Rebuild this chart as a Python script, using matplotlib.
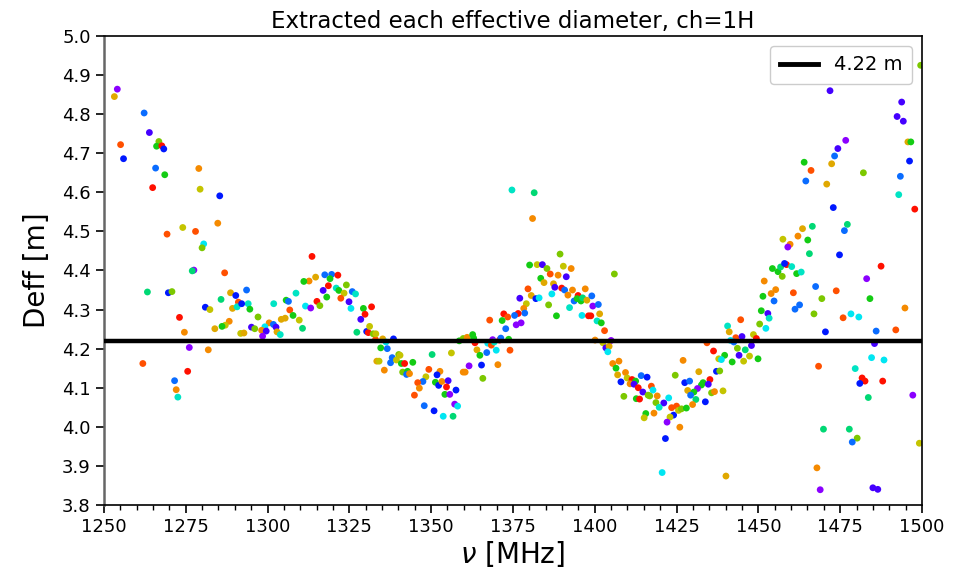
import matplotlib
matplotlib.use("Agg")
import matplotlib.pyplot as plt
from matplotlib.ticker import MultipleLocator

palette = {
    'r': '#ff1000', 'or': '#ff5000', 'o': '#f58a00', 'go': '#e0a800',
    'ol': '#c4c400', 'yg': '#7cc800', 'g': '#14cc14', 'sg': '#00d874',
    'tq': '#00e4c4', 'c': '#00e6f2', 'az': '#0a6cff', 'b': '#0018ff',
    'in': '#4400ff', 'pu': '#8a00ff',
}

freq = [
    1254.1, 1253.2, 1262.3, 1263.9, 1255.1, 1256.0, 1266.8, 1266.1, 1267.7, 1268.3,
    1265.8, 1268.6, 1279.0, 1264.9, 1279.4, 1285.4, 1274.1, 1278.0, 1284.8, 1269.3,
    1280.5, 1280.0, 1277.5, 1277.0, 1286.9, 1263.3, 1269.7, 1270.8, 1281.0, 1282.4,
    1285.8, 1288.7, 1290.3, 1291.1, 1289.3, 1290.7, 1273.1, 1288.3, 1287.1, 1286.1,
    1283.9, 1274.6, 1291.8, 1276.1, 1281.9, 1261.9, 1275.6, 1271.6, 1272.1, 1272.6,
    1313.6, 1317.5, 1319.6, 1321.5, 1319.1, 1314.7, 1312.7, 1311.1, 1324.1, 1318.6,
    1317.0, 1321.0, 1321.8, 1323.4, 1325.9, 1326.9, 1308.7, 1305.7, 1306.4, 1318.1,
    1315.1, 1322.4, 1324.9, 1311.6, 1313.2, 1316.0, 1301.9, 1293.6, 1294.1, 1292.1,
    1294.6, 1306.8, 1325.5, 1331.8, 1329.3, 1329.8, 1307.8, 1305.4, 1304.2, 1309.7,
    1328.5, 1297.1, 1310.7, 1295.1, 1296.1, 1300.5, 1299.2, 1301.8, 1302.6, 1298.2,
    1299.6, 1298.5, 1302.9, 1303.9, 1292.8, 1327.3, 1330.3, 1330.8, 1331.2, 1332.3,
    1333.0, 1333.4,
    1374.7, 1372.2, 1373.4, 1371.7, 1367.9, 1372.8, 1333.1, 1335.2, 1336.2, 1338.5,
    1334.6, 1336.6, 1334.1, 1335.7, 1338.1, 1337.6, 1340.1, 1340.5, 1339.4, 1340.9,
    1341.9, 1344.4, 1341.3, 1342.8, 1342.5, 1343.4, 1350.3, 1356.2, 1349.3, 1352.7,
    1348.4, 1347.5, 1351.8, 1351.3, 1352.3, 1353.3, 1355.2, 1345.9, 1346.4, 1354.7,
    1357.6, 1344.9, 1354.2, 1355.7, 1357.2, 1358.1, 1347.9, 1350.9, 1353.7, 1356.7,
    1358.6, 1359.8, 1361.0, 1362.7, 1363.0, 1363.4, 1364.0, 1364.9, 1367.0, 1367.3,
    1368.4, 1368.8, 1369.3, 1369.9, 1370.9, 1371.3, 1373.7, 1374.1, 1370.4, 1361.6,
    1365.4, 1359.8, 1360.4, 1365.8,
    1381.5, 1381.0, 1389.4, 1380.1, 1382.4, 1384.0, 1385.4, 1390.4, 1392.8, 1386.4,
    1388.8, 1391.3, 1383.5, 1384.5, 1387.4, 1387.8, 1389.9, 1390.8, 1393.2, 1397.1,
    1377.1, 1379.6, 1380.6, 1379.1, 1382.0, 1383.0, 1386.9, 1391.8, 1393.7, 1394.9,
    1394.6, 1395.8, 1396.3, 1397.6, 1399.1, 1399.4, 1401.1, 1385.9, 1392.3, 1388.3,
    1396.1, 1398.1, 1398.8, 1401.5, 1400.7, 1402.0, 1403.0, 1378.3, 1378.6, 1376.6,
    1375.5, 1376.0, 1377.5, 1406.0, 1400.1, 1402.5, 1405.0, 1403.4, 1404.4, 1404.0,
    1405.5, 1407.4, 1406.5, 1407.0, 1409.4, 1408.0, 1409.9, 1411.4, 1410.8, 1412.5,
    1412.0, 1413.3, 1414.2, 1416.0, 1414.7, 1416.3, 1408.9, 1412.7, 1413.7, 1415.6,
    1415.1,
    1457.5, 1454.3, 1456.0, 1456.8, 1457.3, 1451.8, 1455.3, 1453.9, 1454.8, 1451.4,
    1450.9, 1452.9, 1453.3, 1450.4, 1452.3, 1444.6, 1440.6, 1441.1, 1443.1, 1445.0,
    1441.5, 1442.5, 1448.5, 1449.4, 1447.9, 1443.6, 1446.0, 1439.7, 1437.9, 1438.7,
    1444.1, 1447.3, 1445.5, 1442.0, 1449.9, 1434.3, 1436.3, 1427.0, 1431.8, 1437.2,
    1438.2, 1424.6, 1427.5, 1429.0, 1433.1, 1432.6, 1435.2, 1434.7, 1431.4, 1435.7,
    1436.6, 1439.2, 1428.4, 1430.3, 1429.3, 1430.9, 1433.8, 1429.9, 1417.3, 1417.8,
    1416.8, 1419.1, 1421.1, 1422.6, 1418.7, 1419.7, 1418.1, 1423.5, 1425.0, 1424.1,
    1425.6, 1426.5, 1428.0, 1423.0, 1422.1, 1426.0, 1421.6, 1420.6, 1440.1,
    1499.6, 1495.3, 1471.9, 1493.8, 1492.4, 1494.3, 1476.7, 1474.3, 1473.3, 1472.4,
    1495.7, 1496.6, 1496.2, 1464.0, 1466.1, 1464.5, 1470.9, 1482.1, 1493.4, 1492.9,
    1497.8, 1472.9, 1477.2, 1476.3, 1466.5, 1463.5, 1462.1, 1465.1, 1459.7, 1459.0,
    1465.6, 1474.8, 1458.6, 1460.2, 1461.7, 1463.1, 1487.5, 1483.1, 1467.5, 1473.8,
    1460.7, 1469.4, 1484.1, 1462.6, 1461.2, 1467.0, 1475.9, 1478.3, 1480.7, 1494.8,
    1470.5, 1486.0, 1492.0, 1485.5, 1468.4, 1484.6, 1488.4, 1479.6, 1481.7, 1482.6,
    1481.0, 1488.0, 1483.6, 1497.2, 1469.9, 1477.8, 1480.2, 1478.7, 1499.2, 1467.9,
    1468.9, 1485.0, 1486.5, 1458.0,
]

deff = [
    4.864, 4.845, 4.803, 4.753, 4.722, 4.686, 4.730, 4.718, 4.719, 4.711,
    4.662, 4.645, 4.661, 4.612, 4.608, 4.591, 4.510, 4.500, 4.521, 4.493,
    4.468, 4.458, 4.401, 4.399, 4.394, 4.345, 4.343, 4.346, 4.306, 4.300,
    4.326, 4.343, 4.336, 4.319, 4.303, 4.307, 4.280, 4.270, 4.260, 4.257,
    4.251, 4.242, 4.239, 4.203, 4.197, 4.162, 4.142, 4.118, 4.095, 4.076,
    4.436, 4.389, 4.390, 4.388, 4.379, 4.383, 4.373, 4.372, 4.363, 4.361,
    4.349, 4.355, 4.349, 4.342, 4.346, 4.340, 4.342, 4.324, 4.321, 4.332,
    4.321, 4.329, 4.320, 4.309, 4.304, 4.310, 4.315, 4.350, 4.315, 4.315,
    4.301, 4.299, 4.303, 4.307, 4.303, 4.288, 4.285, 4.278, 4.275, 4.273,
    4.275, 4.281, 4.252, 4.255, 4.251, 4.266, 4.256, 4.262, 4.255, 4.247,
    4.245, 4.232, 4.243, 4.236, 4.240, 4.242, 4.244, 4.241, 4.257, 4.238,
    4.223, 4.168,
    4.606, 4.289, 4.281, 4.272, 4.273, 4.251, 4.238, 4.225, 4.217, 4.225,
    4.202, 4.200, 4.168, 4.145, 4.177, 4.164, 4.185, 4.183, 4.171, 4.162,
    4.162, 4.165, 4.140, 4.142, 4.134, 4.136, 4.185, 4.189, 4.147, 4.142,
    4.128, 4.116, 4.133, 4.114, 4.106, 4.116, 4.118, 4.113, 4.099, 4.102,
    4.094, 4.081, 4.083, 4.083, 4.058, 4.053, 4.054, 4.041, 4.027, 4.027,
    4.220, 4.226, 4.229, 4.236, 4.227, 4.215, 4.197, 4.183, 4.190, 4.214,
    4.209, 4.223, 4.217, 4.196, 4.222, 4.227, 4.224, 4.196, 4.159, 4.156,
    4.158, 4.140, 4.140, 4.124,
    4.599, 4.533, 4.442, 4.414, 4.415, 4.415, 4.405, 4.411, 4.405, 4.391,
    4.388, 4.384, 4.380, 4.369, 4.366, 4.357, 4.355, 4.350, 4.350, 4.353,
    4.329, 4.353, 4.336, 4.315, 4.328, 4.330, 4.340, 4.337, 4.322, 4.336,
    4.328, 4.322, 4.330, 4.324, 4.335, 4.309, 4.313, 4.312, 4.305, 4.284,
    4.285, 4.284, 4.284, 4.289, 4.271, 4.266, 4.246, 4.303, 4.291, 4.290,
    4.285, 4.261, 4.266, 4.391, 4.222, 4.215, 4.221, 4.202, 4.206, 4.192,
    4.162, 4.168, 4.150, 4.133, 4.139, 4.115, 4.125, 4.121, 4.110, 4.117,
    4.109, 4.100, 4.131, 4.127, 4.089, 4.081, 4.078, 4.072, 4.071, 4.034,
    4.023,
    4.480, 4.405, 4.397, 4.409, 4.385, 4.373, 4.351, 4.341, 4.322, 4.334,
    4.297, 4.290, 4.278, 4.263, 4.252, 4.274, 4.258, 4.243, 4.228, 4.231,
    4.221, 4.217, 4.236, 4.226, 4.208, 4.201, 4.197, 4.183, 4.174, 4.172,
    4.183, 4.181, 4.168, 4.166, 4.174, 4.215, 4.194, 4.170, 4.141, 4.142,
    4.143, 4.132, 4.113, 4.117, 4.113, 4.107, 4.121, 4.109, 4.098, 4.087,
    4.090, 4.092, 4.093, 4.089, 4.081, 4.070, 4.064, 4.057, 4.104, 4.094,
    4.079, 4.079, 4.061, 4.074, 4.062, 4.050, 4.035, 4.049, 4.053, 4.030,
    4.042, 4.046, 4.048, 4.025, 4.012, 3.999, 3.970, 3.883, 3.874,
    4.925, 4.885, 4.860, 4.831, 4.794, 4.782, 4.733, 4.712, 4.693, 4.673,
    4.729, 4.729, 4.680, 4.677, 4.656, 4.629, 4.621, 4.650, 4.641, 4.594,
    4.557, 4.561, 4.518, 4.502, 4.513, 4.507, 4.488, 4.478, 4.467, 4.460,
    4.443, 4.440, 4.415, 4.410, 4.392, 4.396, 4.411, 4.379, 4.359, 4.348,
    4.343, 4.328, 4.328, 4.312, 4.301, 4.289, 4.279, 4.289, 4.281, 4.304,
    4.243, 4.245, 4.248, 4.213, 4.155, 4.177, 4.171, 4.149, 4.125, 4.117,
    4.111, 4.117, 4.075, 4.081, 3.994, 3.994, 3.971, 3.961, 3.958, 3.895,
    3.839, 3.844, 3.840, 4.418,
]

color_code = [
    'pu', 'go', 'az', 'in', 'or', 'b', 'yg', 'g', 'r', 'b',
    'az', 'g', 'o', 'r', 'ol', 'b', 'ol', 'or', 'o', 'or',
    'c', 'yg', 'pu', 'sg', 'or', 'sg', 'b', 'yg', 'b', 'ol',
    'sg', 'go', 'b', 'or', 'go', 'tq', 'r', 'o', 'ol', 'g',
    'go', 'o', 'ol', 'pu', 'o', 'or', 'r', 'az', 'o', 'tq',
    'r', 'az', 'az', 'r', 'g', 'go', 'o', 'g', 'yg', 'r',
    'in', 'tq', 'g', 'ol', 'az', 'tq', 'tq', 'g', 'az', 'g',
    'r', 'or', 'in', 'c', 'pu', 'yg', 'tq', 'az', 'tq', 'b',
    'g', 'or', 'c', 'r', 'g', 'r', 'g', 'go', 'go', 'ol',
    'in', 'yg', 'sg', 'in', 'yg', 'o', 'c', 'az', 'in', 'o',
    'in', 'pu', 'go', 'tq', 'go', 'sg', 'b', 'r', 'ol', 'yg',
    'or', 'go',
    'tq', 'r', 'or', 'g', 'or', 'az', 'ol', 'go', 'c', 'b',
    'g', 'az', 'ol', 'o', 'az', 'az', 'yg', 'ol', 'ol', 'g',
    'r', 'g', 'yg', 'g', 'az', 'o', 'sg', 'ol', 'or', 'o',
    'ol', 'az', 'b', 'g', 'b', 'o', 'in', 'or', 'o', 'r',
    'b', 'or', 'g', 'pu', 'pu', 'c', 'az', 'b', 'c', 'sg',
    'g', 'yg', 'o', 'g', 'g', 'r', 'go', 'g', 'az', 'c',
    'or', 'pu', 'tq', 'c', 'r', 'az', 'g', 'or', 'o', 'pu',
    'b', 'o', 'o', 'yg',
    'sg', 'o', 'yg', 'g', 'ol', 'in', 'yg', 'ol', 'o', 'or',
    'o', 'in', 'g', 'go', 'go', 'in', 'r', 'az', 'o', 'o',
    'in', 'or', 'go', 'ol', 'b', 'c', 'c', 'o', 'az', 'r',
    'g', 'g', 'sg', 'go', 'az', 'pu', 'az', 'yg', 'tq', 'g',
    'c', 'r', 'r', 'go', 'tq', 'g', 'or', 'o', 'az', 'r',
    'az', 'pu', 'pu', 'yg', 'o', 'ol', 'pu', 'in', 'go', 'c',
    'o', 'o', 'g', 'go', 'o', 'b', 'ol', 'r', 'o', 'g',
    'in', 'r', 'az', 'b', 'in', 'yg', 'yg', 'g', 'r', 'g',
    'ol',
    'ol', 'g', 'g', 'sg', 'yg', 'o', 'o', 'o', 'az', 'g',
    'g', 'in', 'tq', 'yg', 'c', 'or', 'tq', 'go', 'or', 'in',
    'c', 'az', 'ol', 'r', 'in', 'yg', 'sg', 'g', 'ol', 'c',
    'in', 'ol', 'ol', 'g', 'g', 'or', 'r', 'o', 'go', 'b',
    'yg', 'yg', 'b', 'az', 'g', 'g', 'r', 'in', 'pu', 'yg',
    'o', 'ol', 'go', 'g', 'az', 'sg', 'b', 'o', 'or', 'c',
    'yg', 'o', 'in', 'c', 'yg', 'tq', 'o', 'or', 'or', 'b',
    'ol', 'yg', 'g', 'ol', 'pu', 'o', 'b', 'c', 'go',
    'yg', 'pu', 'in', 'in', 'in', 'in', 'pu', 'in', 'az', 'go',
    'go', 'g', 'b', 'g', 'or', 'az', 'go', 'yg', 'az', 'tq',
    'r', 'b', 'sg', 'az', 'sg', 'go', 'o', 'g', 'o', 'pu',
    'sg', 'b', 'r', 'tq', 'g', 'tq', 'r', 'pu', 'az', 'or',
    'or', 'yg', 'g', 'az', 'az', 'yg', 'or', 'c', 'c', 'o',
    'b', 'az', 'or', 'in', 'or', 'c', 'c', 'tq', 'r', 'r',
    'b', 'r', 'sg', 'pu', 'sg', 'sg', 'yg', 'az', 'ol', 'o',
    'pu', 'in', 'in', 'b',
]

mean_deff = 4.22
legend_label = '4.22 m'
title = 'Extracted each effective diameter, ch=1H'
xlabel = r'$\nu$ [MHz]'
ylabel = 'Deff [m]'

fig = plt.figure(figsize=(9.71, 5.76), dpi=100)
ax = fig.add_axes([0.107, 0.1233, 0.8425, 0.8142])

colors = [palette[c] for c in color_code]
ax.scatter(freq, deff, c=colors, s=24, linewidths=0, zorder=2)
ax.axhline(mean_deff, color='black', lw=3.2, label=legend_label, zorder=3)

ax.set_xlim(1250, 1500)
ax.set_ylim(3.8, 5.0)
ax.xaxis.set_major_locator(MultipleLocator(25))
ax.xaxis.set_minor_locator(MultipleLocator(5))
ax.yaxis.set_major_locator(MultipleLocator(0.1))
ax.tick_params(axis='both', which='major', labelsize=13, length=6, width=1.2)
ax.tick_params(axis='x', which='minor', length=3.5, width=1)

ax.set_title(title, fontsize=16.5, pad=6)
ax.set_xlabel(xlabel, fontsize=20, labelpad=2)
ax.set_ylabel(ylabel, fontsize=20, labelpad=8)

ax.spines['left'].set_color('#666666')
ax.spines['left'].set_linewidth(1.8)
for s in ['top', 'right', 'bottom']:
    ax.spines[s].set_linewidth(1.2)

leg = ax.legend(loc='upper right', fontsize=14, handlelength=2.0, borderpad=0.5,
                framealpha=1.0)
for line in leg.get_lines():
    line.set_linewidth(3.5)

fig.savefig('out.png', dpi=100)
